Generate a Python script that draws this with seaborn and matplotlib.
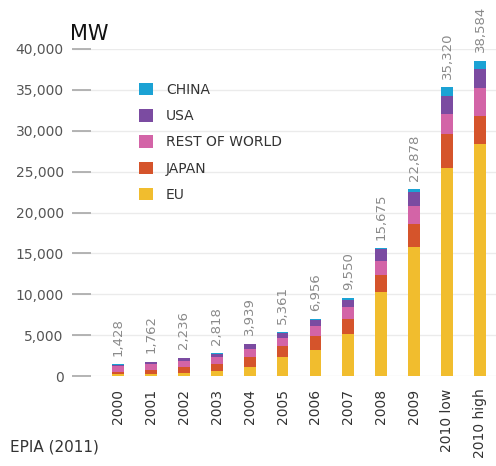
import matplotlib
matplotlib.use("Agg")
import matplotlib.pyplot as plt
from matplotlib.patches import Patch
from matplotlib.ticker import FuncFormatter
import seaborn as sns
import numpy as np

# Cumulative installed PV capacity (MW) by region
years = ["2000", "2001", "2002", "2003", "2004", "2005", "2006", "2007",
         "2008", "2009", "2010 low", "2010 high"]
eu = [190, 260, 400, 560, 1150, 2300, 3200, 5100, 10300, 15800, 25500, 28400]
japan = [330, 450, 640, 860, 1130, 1400, 1750, 1900, 2100, 2800, 4100, 3400]
rest_of_world = [700, 750, 820, 900, 1000, 1000, 1200, 1450, 1700, 2250, 2500, 3400]
usa = [150, 220, 290, 400, 580, 550, 650, 830, 1400, 1700, 2200, 2400]
china = [58, 82, 86, 98, 79, 111, 156, 270, 175, 328, 1020, 984]

series_names = ["EU", "JAPAN", "REST OF WORLD", "USA", "CHINA"]
series_values = [eu, japan, rest_of_world, usa, china]
series_colors = ["#f1bd2e", "#d5542b", "#d364a7", "#7b4ba1", "#1ba2d4"]

sns.set_style("white")
plt.rcParams["font.family"] = ["DejaVu Sans"]

fig = plt.figure(figsize=(4.96, 4.66), dpi=100)
ax = fig.add_axes([72 / 496, 90 / 466, 424 / 496, 327 / 466])

# Stack by layering cumulative bars: tallest first, base series last
cum = np.cumsum(np.array(series_values), axis=0)
totals = cum[-1]
for k in range(len(series_names) - 1, -1, -1):
    sns.barplot(x=years, y=cum[k], order=years, color=series_colors[k],
                saturation=1, width=0.36, errorbar=None, linewidth=0,
                ax=ax, zorder=3)

for i, t in enumerate(totals):
    ax.annotate(f"{int(t):,}", xy=(i, t), xytext=(0, 6),
                textcoords="offset points", rotation=90, ha="center",
                va="bottom", fontsize=9.5, color="#8a8a8a",
                annotation_clip=False)

ax.set_xlim(-1.39, 11.48)
ax.set_ylim(0, 40000)
ax.set_yticks(np.arange(0, 40001, 5000))
ax.yaxis.set_major_formatter(FuncFormatter(lambda v, p: f"{int(v):,}"))
ax.grid(axis="y", color="#ebebeb", linewidth=1, zorder=0)
ax.grid(axis="x", visible=False)
ax.set_axisbelow(True)
ax.tick_params(axis="y", direction="in", length=14, width=1.2,
               color="#a8a8a8", pad=6, labelsize=10, labelcolor="#555555",
               left=True)
ax.tick_params(axis="x", length=0, pad=9, labelsize=10,
               labelcolor="#333333", labelrotation=90)
for lbl in ax.get_xticklabels():
    lbl.set_va("top")
ax.set_xlabel("")
ax.set_ylabel("")
for s in ax.spines.values():
    s.set_visible(False)

handles = [Patch(facecolor=c, edgecolor="none") for c in series_colors][::-1]
labels = series_names[::-1]
fig.legend(handles, labels, loc="upper left",
           bbox_to_anchor=(139 / 496, 1 - 83 / 466),
           bbox_transform=fig.transFigure, frameon=False, fontsize=10,
           handlelength=1.0, handleheight=1.0, handletextpad=0.95,
           labelspacing=0.88, borderpad=0, borderaxespad=0,
           labelcolor="#333333")

fig.text(70 / 496, 1 - 40 / 466, "MW", fontsize=15, color="#111111",
         ha="left", va="baseline")
fig.text(10 / 496, 1 - 452 / 466, "EPIA (2011)", fontsize=11,
         color="#333333", ha="left", va="baseline")

fig.savefig("out.png", dpi=100)
